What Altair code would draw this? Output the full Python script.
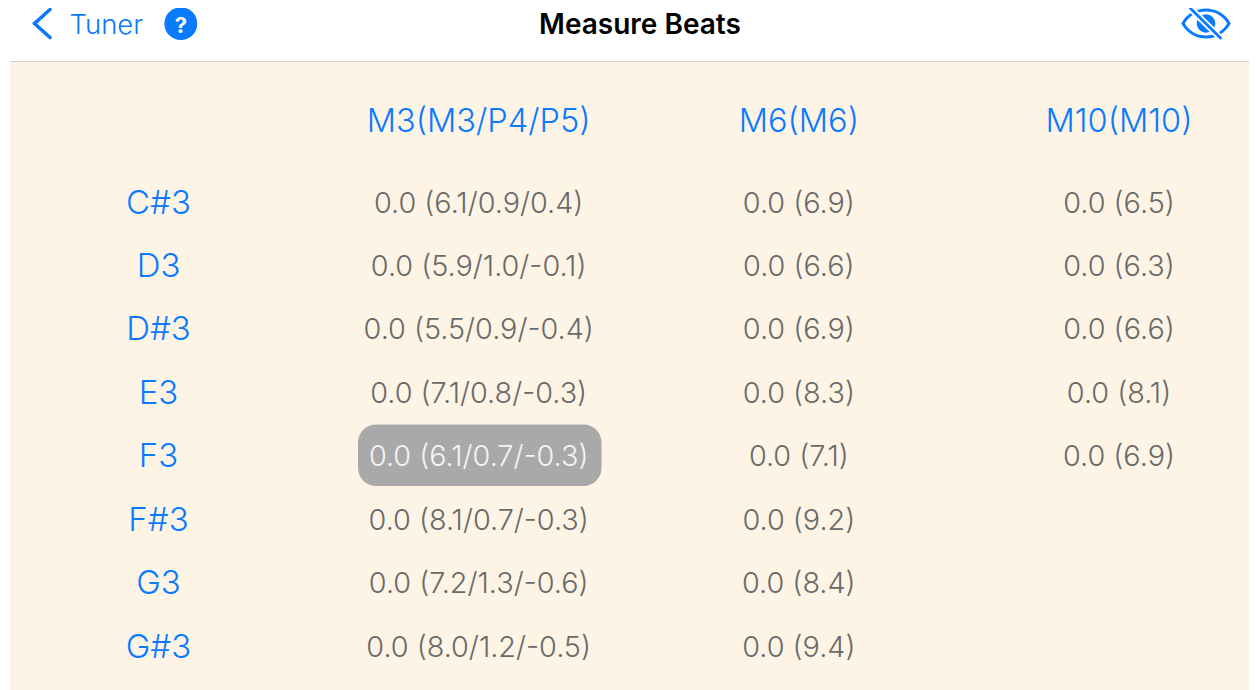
import altair as alt
import pandas as pd

BLUE = "#0a7aff"
GREY = "#6a6a6a"
PANEL = "#fdf4e5"
FONT = "Inter"

notes = ["C#3", "D3", "D#3", "E3", "F3", "F#3", "G3", "G#3"]
headers = ["M3(M3/P4/P5)", "M6(M6)", "M10(M10)"]
m3 = ["0.0 (6.1/0.9/0.4)", "0.0 (5.9/1.0/-0.1)", "0.0 (5.5/0.9/-0.4)", "0.0 (7.1/0.8/-0.3)",
      "0.0 (6.1/0.7/-0.3)", "0.0 (8.1/0.7/-0.3)", "0.0 (7.2/1.3/-0.6)", "0.0 (8.0/1.2/-0.5)"]
m6 = ["0.0 (6.9)", "0.0 (6.6)", "0.0 (6.9)", "0.0 (8.3)", "0.0 (7.1)", "0.0 (9.2)", "0.0 (8.4)", "0.0 (9.4)"]
m10 = ["0.0 (6.5)", "0.0 (6.3)", "0.0 (6.6)", "0.0 (8.1)", "0.0 (6.9)"]
selected = "0.0 (6.1/0.7/-0.3)"

HEADER_ROW = -1.29
X = alt.X("col:Q", axis=None, scale=alt.Scale(domain=[0, 3], range=[150.5, 1111]))
Y = alt.Y("row:Q", axis=None, scale=alt.Scale(domain=[0, 7], range=[195.5, 639.5]))

note_df = pd.DataFrame({"col": 0, "row": range(len(notes)), "t": notes})
head_df = pd.DataFrame({"col": [1, 2, 3], "row": HEADER_ROW, "t": headers})
vals = []
for c, series in enumerate([m3, m6, m10], start=1):
    for r, t in enumerate(series):
        vals.append({"col": c, "row": r, "t": t})
val_df = pd.DataFrame(vals)
plain = val_df[val_df.t != selected]
sel = val_df[val_df.t == selected]

one = pd.DataFrame({"a": [0]})

panel = alt.Chart(one).mark_rect(color=PANEL).encode(
    x=alt.value(2), x2=alt.value(1241), y=alt.value(54), y2=alt.value(682))
divider = alt.Chart(one).mark_rule(color="#d8ccc4", strokeWidth=1).encode(
    x=alt.value(2), x2=alt.value(1241), y=alt.value(53.5))
pill = alt.Chart(one).mark_rect(color="#a9a9a9", cornerRadius=18).encode(
    x=alt.value(350), x2=alt.value(593.5), y=alt.value(416.5), y2=alt.value(478))

note_text = alt.Chart(note_df).mark_text(font=FONT, fontSize=33, fontWeight=300, color=BLUE).encode(x=X, y=Y, text="t:N")
head_text = alt.Chart(head_df).mark_text(font=FONT, fontSize=32.5, fontWeight=300, color=BLUE).encode(x=X, y=Y, text="t:N")
val_text = alt.Chart(plain).mark_text(font=FONT, fontSize=28.8, fontWeight=300, color=GREY).encode(x=X, y=Y, text="t:N")
sel_text = alt.Chart(sel).mark_text(font=FONT, fontSize=28.8, fontWeight=300, color="#f4f4f4").encode(x=X, y=Y, text="t:N")

title = alt.Chart(pd.DataFrame({"t": ["Measure Beats"]})).mark_text(
    font=FONT, fontSize=28, fontWeight=600, color="#000000").encode(
    x=alt.value(632), y=alt.value(18), text="t:N")
back = alt.Chart(pd.DataFrame({"t": ["Tuner"]})).mark_text(
    font=FONT, fontSize=27.5, fontWeight=300, color=BLUE, align="left").encode(
    x=alt.value(61.5), y=alt.value(18), text="t:N")
chev1 = alt.Chart(one).mark_rule(color=BLUE, strokeWidth=3.6, strokeCap="round").encode(
    x=alt.value(26.5), x2=alt.value(42), y=alt.value(15.5), y2=alt.value(1.5))
chev2 = alt.Chart(one).mark_rule(color=BLUE, strokeWidth=3.6, strokeCap="round").encode(
    x=alt.value(26.5), x2=alt.value(42), y=alt.value(15.5), y2=alt.value(29.5))
help_dot = alt.Chart(one).mark_circle(color=BLUE, opacity=1, size=1075).encode(
    x=alt.value(172.8), y=alt.value(15.7))
help_q = alt.Chart(pd.DataFrame({"t": ["?"]})).mark_text(
    font=FONT, fontSize=22, fontWeight=700, color="#ffffff").encode(
    x=alt.value(172.8), y=alt.value(17.5), text="t:N")

EYE = "M-1,0 C-0.55,-0.78 0.55,-0.78 1,0 C0.55,0.78 -0.55,0.78 -1,0 Z"
eye = alt.Chart(one).mark_point(shape=EYE, filled=False, color=BLUE, strokeWidth=3, opacity=1, size=2116).encode(
    x=alt.value(1198), y=alt.value(15.5))
pupil = alt.Chart(one).mark_circle(color=BLUE, opacity=1, size=346).encode(
    x=alt.value(1198), y=alt.value(15.5))
slash_bg = alt.Chart(one).mark_rule(color="#ffffff", strokeWidth=6.5).encode(
    x=alt.value(1183.5), x2=alt.value(1212.5), y=alt.value(1.5), y2=alt.value(30))
slash = alt.Chart(one).mark_rule(color=BLUE, strokeWidth=2.8, strokeCap="round").encode(
    x=alt.value(1182.5), x2=alt.value(1212.5), y=alt.value(0.5), y2=alt.value(30))

chart = alt.layer(
    panel, divider, pill, head_text, note_text, val_text, sel_text,
    title, back, chev1, chev2, help_dot, help_q, eye, pupil, slash_bg, slash,
).properties(width=1241, height=682, padding=0, background="#ffffff",
             autosize=alt.AutoSizeParams(type="none")
).configure_view(stroke=None)

chart.save("out.html", embed_options={"renderer": "svg", "actions": False})
